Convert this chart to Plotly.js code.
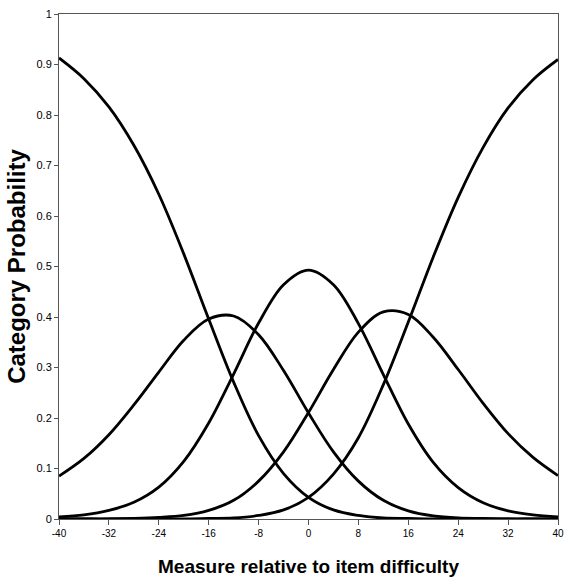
<!DOCTYPE html>
<html>
<head>
<meta charset="utf-8">
<script src="https://cdn.plot.ly/plotly-3.0.1.min.js"></script>
<style>html,body{margin:0;padding:0;background:#fff;}#chart{width:564px;height:579px;}</style>
</head>
<body>
<div id="chart"></div>
<script>
// Measure relative to item difficulty
const measure = [-40,-36,-32,-28,-24,-20,-16,-12,-8,-4,0,4,8,12,16,20,24,28,32,36,40];
// Category probability curves
const cat0 = [0.913,0.872,0.816,0.740,0.643,0.525,0.396,0.271,0.165,0.090,0.043,0.018,0.007,0.002,0.001,0.000,0.000,0.000,0.000,0.000,0.000];
const cat1 = [0.085,0.120,0.167,0.226,0.291,0.354,0.396,0.402,0.365,0.294,0.210,0.133,0.075,0.037,0.016,0.006,0.002,0.001,0.000,0.000,0.000];
const cat2 = [0.004,0.008,0.017,0.033,0.063,0.114,0.190,0.287,0.388,0.464,0.493,0.464,0.387,0.286,0.188,0.112,0.062,0.032,0.016,0.008,0.004];
const cat3 = [0.000,0.000,0.000,0.001,0.003,0.007,0.017,0.037,0.075,0.133,0.211,0.296,0.370,0.410,0.405,0.360,0.296,0.229,0.169,0.122,0.086];
const cat4 = [0.000,0.000,0.000,0.000,0.000,0.000,0.001,0.002,0.007,0.018,0.043,0.089,0.161,0.266,0.390,0.519,0.637,0.736,0.814,0.870,0.910];

const xTicks = [-40,-32,-24,-16,-8,0,8,16,24,32,40];
const yTicks = [0,0.1,0.2,0.3,0.4,0.5,0.6,0.7,0.8,0.9,1];
const yTickText = ['0','0.1','0.2','0.3','0.4','0.5','0.6','0.7','0.8','0.9','1'];

const series = [cat0, cat1, cat2, cat3, cat4];
const traces = series.map((ys, i) => ({
  x: measure, y: ys, type: 'scatter', mode: 'lines',
  name: 'Category ' + i,
  line: {color: '#000', width: 2.8, shape: 'spline', smoothing: 1},
  hoverinfo: 'skip'
}));

const layout = {
  width: 564, height: 579,
  margin: {l: 59, r: 6, t: 14, b: 60, pad: 0},
  paper_bgcolor: '#fff', plot_bgcolor: '#fff',
  showlegend: false,
  font: {family: 'Liberation Sans, Arial, sans-serif', color: '#000'},
  xaxis: {
    range: [-40, 40], tickvals: xTicks, ticktext: xTicks.map(String),
    showgrid: false, zeroline: false,
    showline: true, linecolor: '#555', linewidth: 1, mirror: true,
    ticks: 'outside', ticklen: 5, tickcolor: '#555',
    tickfont: {size: 10, family: 'Liberation Sans, Arial, sans-serif'},
    title: {text: 'Measure relative to item difficulty', font: {size: 19, family: 'Liberation Sans, Arial, sans-serif', weight: 'bold'}, standoff: 21},
    fixedrange: true
  },
  yaxis: {
    range: [0, 1], tickvals: yTicks, ticktext: yTickText,
    showgrid: false, zeroline: false,
    showline: true, linecolor: '#555', linewidth: 1, mirror: true,
    ticks: 'outside', ticklen: 4, tickcolor: '#555',
    tickfont: {size: 11, family: 'Liberation Sans, Arial, sans-serif'},
    title: {text: 'Category Probability', font: {size: 24, family: 'Liberation Sans, Arial, sans-serif', weight: 'bold'}, standoff: 4},
    fixedrange: true
  }
};

Plotly.newPlot('chart', traces, layout, {displayModeBar: false, staticPlot: true});
</script>
</body>
</html>
